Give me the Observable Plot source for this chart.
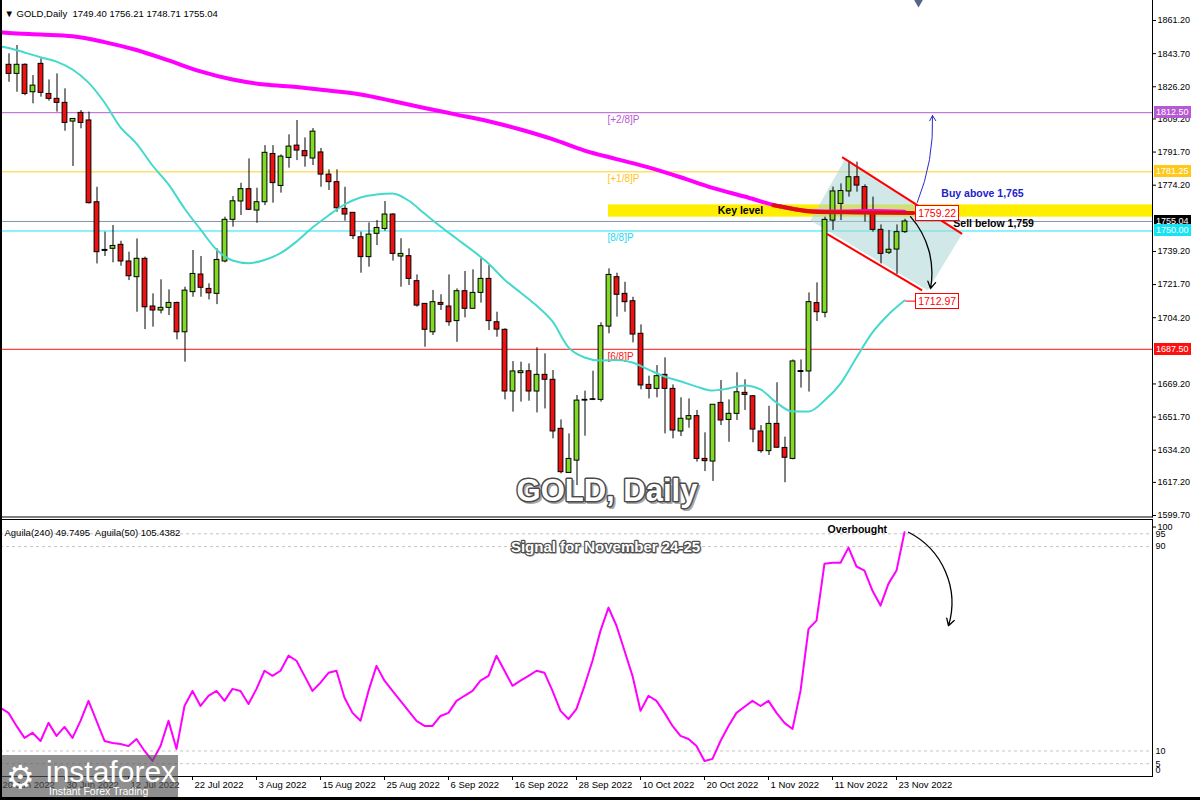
<!DOCTYPE html>
<html><head><meta charset="utf-8">
<script src="https://cdn.jsdelivr.net/npm/d3@7"></script>
<script src="https://cdn.jsdelivr.net/npm/@observablehq/plot@0.6"></script>
<style>
html,body{margin:0;padding:0;background:#fff;}
#wrap{position:relative;width:1200px;height:800px;overflow:hidden;background:#fff;font-family:"Liberation Sans",Arial,sans-serif;}
#wrap svg{position:absolute;left:0;overflow:visible;}
.pbox{position:absolute;height:12px;line-height:12px;font-size:9px;color:#fff;padding:0 2px;white-space:nowrap;}
.abox{position:absolute;height:14px;line-height:14px;font-size:10.5px;color:#f00;background:#fff;border:1px solid #f00;padding:0 2px;white-space:nowrap;}
</style></head>
<body><div id="wrap"></div>
<script>
// ===================== DATA =====================
const header = "▼ GOLD,Daily  1749.40 1756.21 1748.71 1755.04";
const tickBars = [-1, 7, 15, 23, 31, 39, 47, 55, 63, 71, 79, 87, 95, 103, 111];
const tickLabels = ["20 Jun 2022","30 Jun 2022","12 Jul 2022","22 Jul 2022","3 Aug 2022","15 Aug 2022","25 Aug 2022","6 Sep 2022","16 Sep 2022","28 Sep 2022","10 Oct 2022","20 Oct 2022","1 Nov 2022","11 Nov 2022","23 Nov 2022"];
// visible right-axis price ticks (1756.70 and 1687.20 sit under the price boxes)
const priceTicks = [1861.20,1843.70,1826.20,1809.20,1791.70,1774.20,1739.20,1721.70,1704.20,1669.20,1651.70,1634.20,1617.20,1599.70];

const open = [1837.8,1833.0,1837.8,1823.3,1838.3,1822.4,1819.8,1817.7,1807.8,1812.4,
1808.4,1765.2,1740.0,1740.6,1742.7,1733.9,1725.6,1735.3,1710.1,1708.0,
1709.4,1712.0,1696.5,1717.7,1727.0,1719.4,1716.8,1733.9,1755.9,1765.6,
1772.1,1760.8,1765.2,1790.7,1773.8,1788.6,1795.1,1792.2,1788.3,1791.5,
1779.8,1775.8,1761.7,1759.6,1746.7,1736.2,1748.5,1751.1,1758.7,1736.5,
1736.7,1723.5,1711.5,1696.5,1712.0,1710.1,1702.4,1718.2,1708.9,1717.3,
1724.7,1701.8,1697.8,1665.2,1674.9,1675.9,1665.2,1674.0,1671.4,1645.5,
1622.2,1628.7,1660.4,1660.8,1660.8,1699.5,1725.6,1716.8,1712.9,1695.7,
1668.7,1666.6,1674.0,1666.6,1644.1,1650.4,1652.2,1629.6,1628.2,1659.2,
1650.2,1653.4,1664.5,1662.7,1644.1,1633.7,1648.1,1635.4,1629.6,1676.0,
1675.8,1711.9,1706.8,1755.5,1764.3,1770.9,1778.4,1773.2,1760.3,1750.6,
1738.5,1740.2,1749.40];
const high = [1843.6,1848.0,1838.3,1832.1,1840.9,1829.8,1833.0,1825.1,1809.2,1813.6,
1812.8,1773.1,1749.4,1752.9,1744.6,1738.8,1745.8,1736.2,1716.8,1724.2,
1718.9,1712.4,1720.3,1739.7,1736.5,1722.1,1740.6,1757.3,1768.2,1775.2,
1788.1,1772.6,1795.1,1795.1,1790.2,1800.8,1808.4,1799.2,1804.1,1793.6,
1782.3,1782.3,1773.1,1759.6,1749.4,1754.3,1755.5,1765.6,1759.1,1745.9,
1740.6,1726.8,1711.5,1718.6,1716.3,1726.8,1719.4,1728.6,1729.5,1735.3,
1731.8,1707.1,1698.3,1681.0,1680.7,1679.8,1688.3,1685.1,1676.3,1650.2,
1642.8,1663.1,1665.4,1675.9,1701.5,1730.0,1727.7,1722.9,1715.0,1700.4,
1673.3,1678.9,1683.0,1668.7,1661.9,1661.3,1655.2,1643.4,1658.2,1671.0,
1660.8,1675.1,1671.4,1663.1,1647.2,1657.4,1669.8,1641.1,1681.9,1681.9,
1717.3,1722.6,1757.3,1773.2,1774.9,1786.7,1786.4,1774.4,1767.9,1753.2,
1750.3,1753.2,1756.21];
const low = [1828.6,1823.3,1821.5,1817.2,1820.7,1818.6,1812.8,1802.7,1784.1,1804.0,
1764.3,1732.6,1736.5,1733.2,1731.4,1723.8,1707.1,1697.9,1699.2,1706.2,
1705.3,1692.5,1680.7,1715.0,1715.0,1713.6,1711.1,1733.2,1752.0,1758.2,
1760.8,1754.1,1763.4,1764.7,1770.0,1783.2,1787.2,1783.7,1784.6,1773.1,
1771.4,1759.9,1755.2,1745.5,1727.7,1730.9,1742.3,1749.9,1734.1,1720.3,
1721.2,1709.8,1688.6,1694.8,1708.0,1699.7,1691.2,1704.1,1708.9,1711.9,
1697.4,1693.9,1660.8,1654.3,1659.6,1660.1,1653.9,1656.0,1640.2,1621.7,
1622.2,1615.5,1641.6,1660.4,1659.6,1695.7,1704.5,1707.1,1690.9,1666.1,
1661.3,1661.9,1642.8,1640.2,1641.4,1645.8,1627.9,1622.9,1617.7,1647.2,
1638.4,1649.9,1655.2,1638.1,1632.6,1631.4,1635.4,1617.0,1629.1,1667.0,
1664.9,1702.2,1704.1,1750.3,1755.5,1767.9,1770.5,1754.7,1749.4,1732.6,
1737.6,1727.0,1748.71];
const close = [1833.0,1837.8,1822.4,1826.8,1823.0,1819.8,1817.7,1807.1,1809.2,1807.1,
1764.7,1738.8,1739.5,1742.1,1733.9,1726.1,1735.3,1709.7,1708.0,1709.4,
1712.0,1696.5,1718.5,1727.3,1720.0,1717.1,1734.7,1755.9,1765.7,1772.1,
1761.2,1765.2,1791.3,1775.3,1789.3,1794.6,1792.5,1789.5,1802.5,1779.8,
1775.8,1762.0,1758.7,1747.3,1736.2,1748.1,1751.6,1758.7,1737.9,1737.9,
1724.7,1710.6,1697.8,1712.4,1711.0,1701.8,1718.2,1708.9,1717.3,1724.7,
1702.4,1697.9,1665.2,1675.8,1675.9,1665.2,1674.0,1671.4,1644.1,1622.6,
1629.6,1660.4,1660.8,1661.1,1699.7,1726.8,1716.3,1712.4,1695.3,1668.4,
1666.6,1673.3,1666.6,1644.6,1650.8,1652.2,1629.6,1628.4,1658.2,1649.9,
1653.4,1664.8,1663.4,1645.1,1633.7,1648.1,1635.5,1630.2,1681.1,1675.5,
1712.4,1707.1,1755.9,1770.9,1771.1,1778.4,1774.0,1760.3,1750.6,1737.9,
1740.1,1749.4,1755.04];

// slow MA (magenta)
const maSlowBars = [-1,0,4,8,12,16,20,24,28,32,36,40,44,48,52,56,60,64,68,72,76,80,84,88,92,96,100,104,108,112];
const maSlow = [1855.0,1854.6,1853.8,1852.9,1849.8,1845.6,1840.1,1834.3,1830.0,1827.4,1826.1,1824.2,1822.1,1818.7,1815.0,1811.5,1808.0,1803.6,1798.5,1792.5,1788.0,1783.6,1778.4,1772.8,1768.2,1763.4,1760.6,1760.3,1760.5,1760.2];
// fast MA (turquoise)
const maFastBars = [-1,0,2,4,6,8,10,12,14,16,18,20,22,24,26,28,30,32,34,36,38,40,42,44,46,48,50,52,54,56,58,60,62,64,66,68,70,72,74,76,78,80,82,84,86,88,90,92,94,96,98,100,102,104,106,108,110,112];
const maFast = [1847.5,1846.7,1844.3,1841.8,1839.5,1835.3,1828.4,1817.9,1804.8,1796.2,1784.6,1774.6,1761.9,1750.8,1740.2,1734.4,1733.0,1734.7,1738.3,1744.4,1751.8,1758.2,1764.0,1767.7,1769.3,1769.8,1766.1,1759.2,1752.4,1746.0,1739.7,1732.8,1724.3,1717.5,1710.6,1702.2,1688.5,1683.2,1681.6,1681.8,1680.5,1676.8,1673.1,1670.6,1667.8,1665.7,1666.8,1668.4,1666.3,1659.4,1654.6,1654.6,1660.4,1669.4,1683.2,1696.4,1705.9,1713.3];
// highlighted key MA segment (red)
const keyLineBars = [95.6, 98, 100.5, 106, 113.1];
const keyLineValues = [1763.6, 1761.8, 1760.2, 1759.8, 1759.5];

// Murrey levels
const levelNames = ["[+2/8]P","[+1/8]P","[8/8]P","[6/8]P"];
const levelValues = [1812.50, 1781.25, 1750.00, 1687.50];
const levelColors = ["#b65ad4", "#ffd21a", "#19e6f2", "#ff1414"];
const levelTextColors = ["#b65ad4", "#ffc21a", "#22d8ee", "#ff1414"];
const levelLabelBar = 75;
const lastPrice = 1755.04;

// key level band
const keyBandStart = 75, keyBandEnd = 143, keyBandLow = 1757.3, keyBandHigh = 1763.8;
// descending channel
const channelBars = [100.25, 104.6, 119.25, 114.9];
const channelPrices = [1755.5, 1788.3, 1748.7, 1718.6];
const channelLines = [
  {b1: 104.2, p1: 1789.0, b2: 119.2, p2: 1748.5},
  {b1: 102.3, p1: 1748.5, b2: 114.2, p2: 1718.6}
];
// arrows
const sellArrow = {b1: 112.75, p1: 1757.6, b2: 115.25, p2: 1719.6};
const buyArrow = {b1: 113.6, p1: 1765.1, b2: 115.5, p2: 1811.0};
// annotation labels
const keyNote = {text: "Key level", bar: 91.5, price: 1760.6};
const buyNote = {text: "Buy above 1,765", bar: 116.6, price: 1769.8};
const sellNote = {text: "Sell below 1,759", bar: 118.1, price: 1753.8};
const valueBoxes = [
  {text: "1759.22", bar: 113.4, price: 1759.22},
  {text: "1712.97", bar: 113.4, price: 1712.97}
];
const connector = {b1: 112.1, b2: 113.4, p: 1712.97};

// Aguila oscillator
const aguilaStart = -1;
const aguila = [26.9,24.9,19.8,15.1,17.1,13.9,21.0,15.9,19.4,15.1,21.8,
29.6,21.8,13.9,13.1,12.7,11.9,14.7,10.0,6.1,11.9,
21.8,10.8,27.6,33.5,27.6,31.6,33.5,29.6,34.3,33.5,
28.4,34.3,41.4,39.4,41.4,47.3,45.3,39.4,33.5,36.7,
40.6,41.4,30.8,24.9,21.8,33.5,43.3,37.5,33.5,29.6,
25.7,21.8,19.8,19.8,23.7,24.9,29.6,31.6,33.5,37.5,
39.4,47.3,41.4,35.5,37.5,39.4,41.4,40.6,33.5,25.7,
22.5,26.5,35.5,45.3,57.1,66.1,59.0,49.2,39.4,25.7,
31.6,29.6,24.9,19.8,15.9,14.7,11.9,6.1,6.9,13.9,
19.8,24.9,27.3,29.6,27.6,29.6,24.9,21.0,18.6,33.5,
57.8,61.0,83.3,83.7,83.7,89.6,82.2,80.6,72.7,66.9,
75.5,80.6,95.6];
const aguilaLevels = [95, 90, 10, 5];
const aguilaLegend = "Aguila(240) 49.7495  Aguila(50) 105.4382";
const obArrow = {b1: 112.5, v1: 95.6, b2: 117.5, v2: 59.0};
const obNote = {text: "Overbought", bar: 106.1, v: 96.7};

// ===================== BUILD =====================
const FONT = '"Liberation Sans", Arial, sans-serif';
const bars = open.map((o, k) => ({bar: k, o, h: high[k], l: low[k], c: close[k]}));
const candleFill = d => Math.abs(d.c - d.o) < 0.6 ? "#000" : (d.c > d.o ? "#7fdc22" : "#f01010");
const slowPts = maSlowBars.map((b, k) => ({bar: b, v: maSlow[k]}));
const fastPts = maFastBars.map((b, k) => ({bar: b, v: maFast[k]}));
const keyPts = keyLineBars.map((b, k) => ({bar: b, v: keyLineValues[k]}));
const channelPts = channelBars.map((b, k) => ({bar: b, v: channelPrices[k]}));
const levels = levelNames.map((n, k) => ({name: n, value: levelValues[k], color: levelColors[k], tcolor: levelTextColors[k]}));
const aguilaPts = aguila.map((v, k) => ({bar: aguilaStart + k, v}));

const xDomain = [-1, 143];

const main = Plot.plot({
  width: 1200, height: 518,
  marginLeft: 0, marginRight: 48, marginTop: 0, marginBottom: 1.5,
  x: {domain: xDomain, axis: null},
  y: {domain: [1598.91, 1871.77], axis: null},
  style: {fontFamily: FONT, fontSize: "9px", color: "#000", background: "transparent"},
  marks: [
    Plot.rect([{}], {x1: keyBandStart, x2: keyBandEnd, y1: keyBandLow, y2: keyBandHigh, fill: "#ffee00"}),
    ...levels.map(l => Plot.ruleY([l.value], {stroke: l.color, strokeWidth: 1})),
    Plot.ruleY([lastPrice], {stroke: "#8494a8", strokeWidth: 1}),
    ...levels.map(l => Plot.text([l], {x: levelLabelBar, y: "value", text: "name", fill: l.tcolor, textAnchor: "start", dy: 7, dx: -1, fontSize: 10})),
    Plot.line(channelPts, {x: "bar", y: "v", fill: "#a9d6d6", fillOpacity: 0.55, stroke: "none"}),
    Plot.ruleX(bars, {x: "bar", y1: "l", y2: "h", stroke: "#000", strokeWidth: 1, dx: 0.5}),
    Plot.rect(bars, {x1: d => d.bar - 0.3, x2: d => d.bar + 0.3, y1: "o", y2: "c", fill: candleFill, stroke: "#000", strokeWidth: 1, dx: 0.5}),
    Plot.line(fastPts, {x: "bar", y: "v", stroke: "#45d9cc", strokeWidth: 2, curve: "monotone-x"}),
    Plot.line(slowPts, {x: "bar", y: "v", stroke: "#ff00ff", strokeWidth: 4, curve: "monotone-x"}),
    Plot.line(keyPts, {x: "bar", y: "v", stroke: "#e01010", strokeWidth: 4, curve: "monotone-x"}),
    Plot.link(channelLines, {x1: "b1", y1: "p1", x2: "b2", y2: "p2", stroke: "#ff0000", strokeWidth: 2}),
    Plot.link([connector], {x1: "b1", x2: "b2", y1: "p", y2: "p", stroke: "#ff0000", strokeWidth: 1}),
    Plot.arrow([sellArrow], {x1: "b1", y1: "p1", x2: "b2", y2: "p2", bend: 26, stroke: "#000", strokeWidth: 1.3, headLength: 9}),
    Plot.arrow([buyArrow], {x1: "b1", y1: "p1", x2: "b2", y2: "p2", bend: -12, stroke: "#2a2acc", strokeWidth: 1, headLength: 9}),
    Plot.text([keyNote], {x: "bar", y: "price", text: "text", fill: "#000", textAnchor: "middle", fontWeight: "bold", fontSize: 10.5}),
    Plot.text([buyNote], {x: "bar", y: "price", text: "text", fill: "#2222cc", textAnchor: "start", fontWeight: "bold", fontSize: 10.5}),
    Plot.text([sellNote], {x: "bar", y: "price", text: "text", fill: "#000", textAnchor: "start", fontWeight: "bold", fontSize: 10.5}),
    Plot.axisY(priceTicks, {anchor: "right", tickSize: 3, tickPadding: 2, tickFormat: d => d.toFixed(2), fontSize: 9}),
    Plot.frame({anchor: "right", stroke: "#000"}),
    Plot.frame({anchor: "bottom", stroke: "#000"}),
    Plot.text([header], {frameAnchor: "top-left", text: d => d, dx: 4, dy: 10, fontSize: 9.5, textAnchor: "start"}),
    Plot.dot([0], {frameAnchor: "top", dx: 342, dy: 0, symbol: "triangle", rotate: 180, r: 4.5, fill: "#56648a", stroke: "none"}),
    Plot.text(["GOLD, Daily"], {frameAnchor: "bottom", text: d => d, dx: 32.5, dy: -14.5, fontSize: 31, fontWeight: "bold", fill: "#a8a8a8", stroke: "#a8a8a8", strokeWidth: 2}),
    Plot.text(["GOLD, Daily"], {frameAnchor: "bottom", text: d => d, dx: 30.5, dy: -16.5, fontSize: 31, fontWeight: "bold", fill: "#fff", stroke: "#4a4a4a", strokeWidth: 3, paintOrder: "stroke"})
  ]
});
main.style.top = "0px";

const ind = Plot.plot({
  width: 1200, height: 282,
  marginLeft: 0, marginRight: 48, marginTop: 1, marginBottom: 24,
  x: {domain: xDomain, axis: null},
  y: {domain: [0, 100.6], axis: null},
  style: {fontFamily: FONT, fontSize: "9px", color: "#000", background: "transparent"},
  marks: [
    Plot.ruleY(aguilaLevels, {stroke: "#c4c4c4", strokeDasharray: "3,3"}),
    Plot.line(aguilaPts, {x: "bar", y: "v", stroke: "#ff00ff", strokeWidth: 2}),
    Plot.arrow([obArrow], {x1: "b1", y1: "v1", x2: "b2", y2: "v2", bend: 40, stroke: "#000", strokeWidth: 1.3, headLength: 9}),
    Plot.text([obNote], {x: "bar", y: "v", text: "text", fontWeight: "bold", fontSize: 10.5}),
    Plot.text([aguilaLegend], {frameAnchor: "top-left", text: d => d, dx: 4, dy: 10, fontSize: 9.5, textAnchor: "start"}),
    Plot.text(["Signal for November 24-25"], {frameAnchor: "top", text: d => d, dx: 30, dy: 23, fontSize: 15, fontWeight: "bold", fill: "#b0b0b0", stroke: "#b0b0b0", strokeWidth: 1.5}),
    Plot.text(["Signal for November 24-25"], {frameAnchor: "top", text: d => d, dx: 29, dy: 22, fontSize: 15, fontWeight: "bold", fill: "#fff", stroke: "#505050", strokeWidth: 2.4, paintOrder: "stroke"}),
    Plot.axisY([5, 10, 90, 95], {anchor: "right", tickSize: 0, tickPadding: 3, fontSize: 9}),
    Plot.axisY([100], {anchor: "right", tickSize: 3, tickPadding: 2, dy: 6, fontSize: 9}),
    Plot.axisY([0], {anchor: "right", tickSize: 0, tickPadding: 3, dy: -6, fontSize: 9}),
    Plot.axisX(tickBars, {anchor: "bottom", tickSize: 4, text: null}),
    Plot.axisX(tickBars, {anchor: "bottom", tickSize: 0, tickPadding: 5, textAnchor: "start", dx: 2, fontSize: 9.5, tickFormat: d => tickLabels[tickBars.indexOf(d)]}),
    Plot.frame({anchor: "top", stroke: "#000"}),
    Plot.frame({anchor: "right", stroke: "#000"}),
    Plot.frame({anchor: "bottom", stroke: "#000"})
  ]
});
ind.style.top = "518px";

const wrap = document.getElementById("wrap");
wrap.appendChild(main);
wrap.appendChild(ind);

// right-axis price boxes
const ys = main.scale("y"), xs = main.scale("x");
const priceBoxes = [
  {v: levelValues[0], bg: "#b65ad4"},
  {v: levelValues[1], bg: "#ffc81a"},
  {v: lastPrice, bg: "#000"},
  {v: levelValues[2], bg: "#14e4f4"},
  {v: levelValues[3], bg: "#ff1010"}
];
for (const b of priceBoxes) {
  const d = document.createElement("div");
  d.className = "pbox";
  d.textContent = b.v.toFixed(2);
  d.style.background = b.bg;
  d.style.left = "1154px";
  d.style.top = (ys.apply(b.v) - 6) + "px";
  wrap.appendChild(d);
}
for (const b of valueBoxes) {
  const d = document.createElement("div");
  d.className = "abox";
  d.textContent = b.text;
  d.style.left = xs.apply(b.bar) + "px";
  d.style.top = (ys.apply(b.price) - 8) + "px";
  wrap.appendChild(d);
}

// logo + frame edges
const logo = document.createElement("div");
logo.style.cssText = "position:absolute;left:0;top:755px;width:178px;height:43px;background:rgba(85,85,85,0.66);color:#fff;";
logo.innerHTML = '<div style="position:absolute;left:6px;top:4px;font-size:32px;line-height:36px;font-family:\'DejaVu Sans\'">⚙</div>' +
  '<div style="position:absolute;left:46px;top:1px;font-size:30px;line-height:32px;font-family:\'Liberation Sans\',Arial">instaforex</div>' +
  '<div style="position:absolute;left:49px;top:30px;font-size:10.5px;line-height:12px;font-family:\'Liberation Sans\',Arial">Instant Forex Trading</div>';
wrap.appendChild(logo);
const lb = document.createElement("div");
lb.style.cssText = "position:absolute;left:0;top:0;width:2px;height:800px;background:#000;";
wrap.appendChild(lb);
const bb = document.createElement("div");
bb.style.cssText = "position:absolute;left:0;top:797px;width:1200px;height:3px;background:#000;";
wrap.appendChild(bb);
</script></body></html>
